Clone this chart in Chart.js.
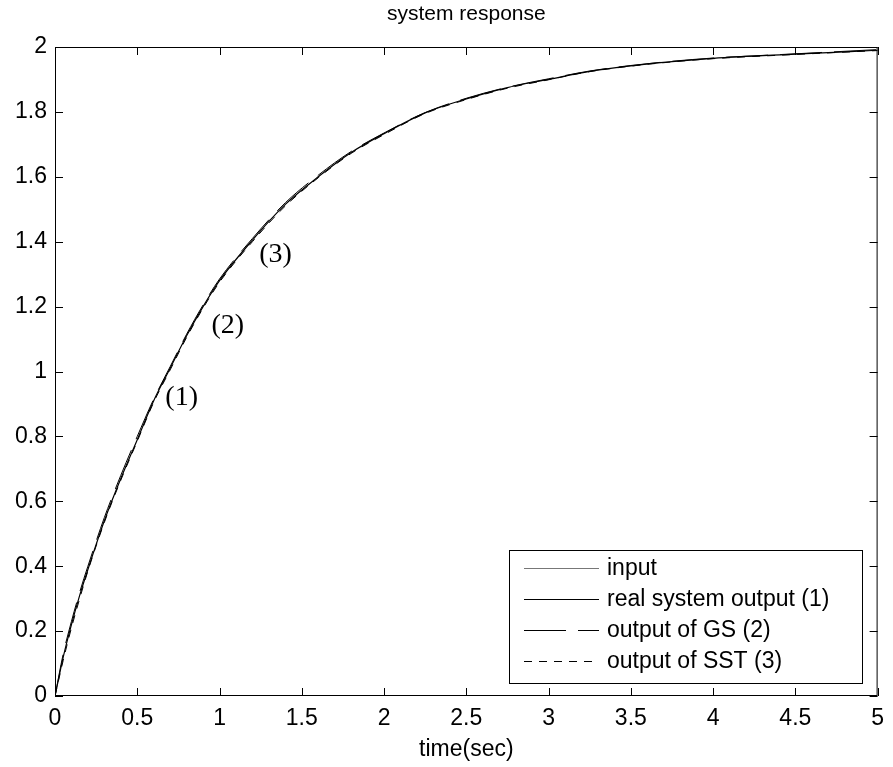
<!DOCTYPE html>
<html>
<head>
<meta charset="utf-8">
<script src="https://cdn.jsdelivr.net/npm/chart.js@4/dist/chart.umd.min.js"></script>
<style>
  html, body { margin: 0; padding: 0; background: #fff; }
  #wrap { width: 893px; height: 767px; position: relative; }
</style>
</head>
<body>
<div id="wrap"><canvas id="myChart" width="893" height="767"></canvas></div>
<script>
// valores
const tiempo = [0, 0.05, 0.1, 0.15, 0.2, 0.3, 0.4, 0.5, 0.6, 0.7, 0.8, 0.9, 1.0, 1.2, 1.4, 1.6, 1.8, 2.0, 2.25, 2.5, 2.75, 3.0, 3.25, 3.5, 3.75, 4.0, 4.5, 5.0]
const salidaReal = [0, 0.12, 0.22, 0.31, 0.39, 0.54, 0.67, 0.79, 0.91, 1.01, 1.11, 1.20, 1.28, 1.405, 1.515, 1.60, 1.675, 1.733, 1.797, 1.84, 1.875, 1.90, 1.925, 1.942, 1.955, 1.965, 1.978, 1.99]
const salidaGS = [0, 0.13, 0.23, 0.32, 0.40, 0.55, 0.68, 0.80, 0.915, 1.015, 1.115, 1.205, 1.285, 1.41, 1.52, 1.605, 1.678, 1.735, 1.798, 1.842, 1.876, 1.902, 1.926, 1.943, 1.956, 1.966, 1.979, 1.992]
const salidaSST = [0, 0.11, 0.21, 0.30, 0.385, 0.535, 0.665, 0.785, 0.905, 1.005, 1.105, 1.195, 1.275, 1.40, 1.51, 1.597, 1.672, 1.730, 1.795, 1.838, 1.873, 1.899, 1.924, 1.941, 1.954, 1.964, 1.977, 1.989]
const tiempoEntrada = [0, 0, 5]
const entrada = [0, 2, 2]

const xTickLabels = ['0', '0.5', '1', '1.5', '2', '2.5', '3', '3.5', '4', '4.5', '5']
const yTickLabels = ['0', '0.2', '0.4', '0.6', '0.8', '1', '1.2', '1.4', '1.6', '1.8', '2']
const etiquetasLeyenda = ['input', 'real system output (1)', 'output of GS (2)', 'output of SST (3)']

// etiquetas (1) (2) (3) sobre las curvas
const marcas = [
    { texto: '(1)', x: 0.77, y: 0.92 },
    { texto: '(2)', x: 1.05, y: 1.14 },
    { texto: '(3)', x: 1.34, y: 1.36 }
]

const fuente = '"Liberation Sans", Arial, Helvetica, sans-serif'
const puntos = (xs, ys) => xs.map((x, i) => ({ x: x, y: ys[i] }))

// dibuja el marco, los ticks hacia adentro, el titulo, las marcas y la leyenda
const marcoPlugin = {
    id: 'marco',
    afterDraw(chart) {
        const ctx = chart.ctx
        const a = chart.chartArea
        const sx = chart.scales.x
        const sy = chart.scales.y
        ctx.save()
        ctx.strokeStyle = '#000'
        ctx.lineWidth = 1
        ctx.strokeRect(a.left + 0.5, a.top + 0.5, a.right - a.left - 1, a.bottom - a.top - 1)
        ctx.beginPath()
        sx.ticks.forEach(t => {
            const px = Math.round(sx.getPixelForValue(t.value)) + 0.5
            ctx.moveTo(px, a.bottom); ctx.lineTo(px, a.bottom - 8)
            ctx.moveTo(px, a.top); ctx.lineTo(px, a.top + 8)
        })
        sy.ticks.forEach(t => {
            const py = Math.round(sy.getPixelForValue(t.value)) + 0.5
            ctx.moveTo(a.left, py); ctx.lineTo(a.left + 8, py)
            ctx.moveTo(a.right, py); ctx.lineTo(a.right - 8, py)
        })
        ctx.stroke()

        // titulo
        ctx.fillStyle = '#000'
        ctx.font = '21px ' + fuente
        ctx.textAlign = 'center'
        ctx.textBaseline = 'middle'
        ctx.fillText('system response', (a.left + a.right) / 2, 14)

        // marcas (1) (2) (3)
        ctx.font = '28px "Liberation Serif", "Times New Roman", serif'
        marcas.forEach(m => {
            ctx.fillText(m.texto, sx.getPixelForValue(m.x), sy.getPixelForValue(m.y))
        })

        // leyenda
        const lx = 509, ly = 550, lw = 353, lh = 133
        ctx.fillStyle = '#fff'
        ctx.fillRect(lx, ly, lw, lh)
        ctx.strokeStyle = '#000'
        ctx.strokeRect(lx + 0.5, ly + 0.5, lw, lh)
        ctx.font = '23px ' + fuente
        ctx.textAlign = 'left'
        chart.data.datasets.forEach((ds, i) => {
            const yy = ly + 18 + i * 31
            ctx.save()
            ctx.strokeStyle = ds.borderColor
            ctx.lineWidth = ds.borderWidth
            ctx.setLineDash(ds.borderDash || [])
            ctx.beginPath()
            ctx.moveTo(524, yy + 0.5)
            ctx.lineTo(599, yy + 0.5)
            ctx.stroke()
            ctx.restore()
            ctx.fillStyle = '#000'
            ctx.fillText(ds.label, 607, yy + 1)
        })
        ctx.restore()
    }
}

const myChart = document.getElementById('myChart')
new Chart(myChart, {
    type: 'line',
    data: {
        datasets: [{
            label: etiquetasLeyenda[0],
            data: puntos(tiempoEntrada, entrada),
            borderColor: '#777',
            borderWidth: 1,
            tension: 0
        },
        {
            label: etiquetasLeyenda[1],
            data: puntos(tiempo, salidaReal),
            borderColor: '#000',
            borderWidth: 1.2,
            cubicInterpolationMode: 'monotone'
        },
        {
            label: etiquetasLeyenda[2],
            data: puntos(tiempo, salidaGS),
            borderColor: '#000',
            borderWidth: 1,
            borderDash: [42, 12],
            cubicInterpolationMode: 'monotone'
        },
        {
            label: etiquetasLeyenda[3],
            data: puntos(tiempo, salidaSST),
            borderColor: '#000',
            borderWidth: 1,
            borderDash: [8, 7],
            cubicInterpolationMode: 'monotone'
        }]
    },
    options: {
        responsive: false,
        animation: false,
        elements: { point: { radius: 0 } },
        layout: { padding: { top: 47, right: 14, left: 0, bottom: 0 } },
        plugins: { legend: { display: false }, tooltip: { enabled: false } },
        scales: {
            x: {
                type: 'linear',
                min: 0, max: 5,
                afterFit: s => { s.height = 71 },
                grid: { display: false, drawTicks: false },
                border: { display: false },
                ticks: {
                    stepSize: 0.5,
                    padding: 9,
                    color: '#000',
                    font: { size: 23, family: fuente },
                    callback: (v, i) => xTickLabels[i]
                },
                title: {
                    display: true,
                    text: 'time(sec)',
                    color: '#000',
                    font: { size: 23, family: fuente },
                    padding: { top: 0, bottom: 4 }
                }
            },
            y: {
                min: 0, max: 2,
                afterFit: s => { s.width = 55 },
                grid: { display: false, drawTicks: false },
                border: { display: false },
                ticks: {
                    stepSize: 0.2,
                    padding: 8,
                    color: '#000',
                    font: { size: 23, family: fuente },
                    callback: (v, i) => yTickLabels[i]
                }
            }
        }
    },
    plugins: [marcoPlugin]
})
</script>
</body>
</html>
